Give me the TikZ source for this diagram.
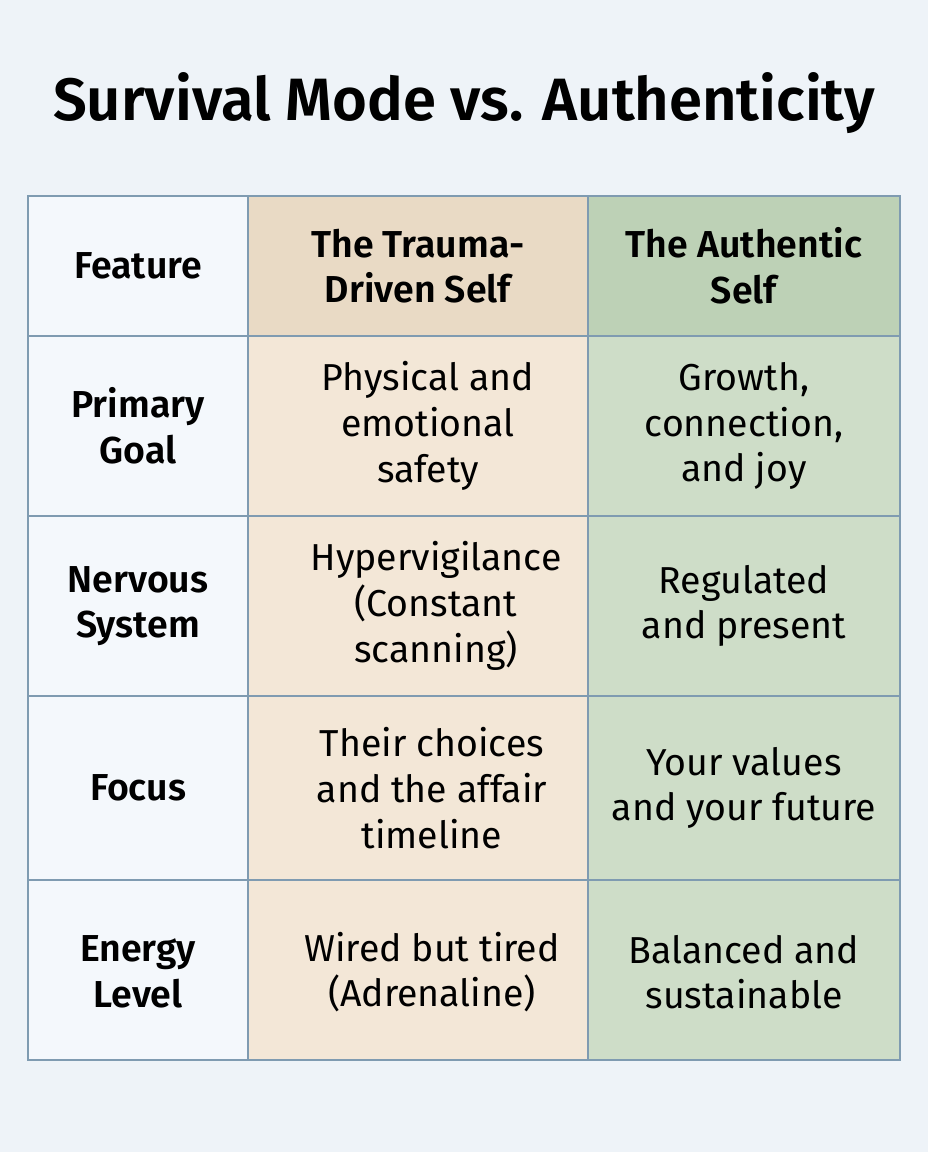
\documentclass[tikz,border=0pt]{standalone}
\usepackage{fontspec}
\setmainfont{Fira Sans}[BoldFont={Fira Sans SemiBold}]
\definecolor{bgblue}{HTML}{EEF3F8}
\definecolor{featcol}{HTML}{F4F8FC}
\definecolor{traumahead}{HTML}{E9DAC5}
\definecolor{traumacell}{HTML}{F3E7D7}
\definecolor{authhead}{HTML}{BDD1B6}
\definecolor{authcell}{HTML}{CEDDC8}
\definecolor{gridline}{HTML}{7F9BB1}
\tikzset{
  cell/.style={align=center, font=\fontsize{32}{39}\selectfont},
  head/.style={cell, font=\fontsize{32}{39}\selectfont\bfseries},
}
\begin{document}
\begin{tikzpicture}[x=0.03cm,y=-0.03cm]
    \useasboundingbox (0,0) rectangle (928,1152);
    \fill[bgblue] (0,0) rectangle (928,1152);
    \node (title) at (464,103) {\fontsize{51}{56}\selectfont\bfseries Survival Mode vs. Authenticity};
    % column fills
    \fill[featcol] (28,196) rectangle (248,1060);
    \fill[traumacell] (248,196) rectangle (588,1060);
    \fill[authcell] (588,196) rectangle (900,1060);
    \fill[traumahead] (248,196) rectangle (588,336);
    \fill[authhead] (588,196) rectangle (900,336);
    % grid
    \draw[gridline, line width=1.5pt] (28,196) rectangle (900,1060);
    \foreach \x in {248,588} \draw[gridline, line width=1.2pt] (\x,196) -- (\x,1060);
    \foreach \y in {336,516,696,880} \draw[gridline, line width=1.2pt] (28,\y) -- (900,\y);
    % header row
    \node[head] (feature) at (138,266) {Feature};
    \node[head] (trauma) at (418,266) {The Trauma-\\Driven Self};
    \node[head] (authentic) at (744,266) {The Authentic\\Self};
    % rows
    \node[head] (goal) at (138,426) {Primary\\Goal};
    \node[cell] (goalT) at (428,426) {Physical and\\emotional\\safety};
    \node[cell] (goalA) at (744,426) {Growth,\\connection,\\and joy};
    \node[head] (nerve) at (138,606) {Nervous\\System};
    \node[cell] (nerveT) at (436,606) {Hypervigilance\\(Constant\\scanning)};
    \node[cell] (nerveA) at (744,606) {Regulated\\and present};
    \node[head] (focus) at (138,788) {Focus};
    \node[cell] (focusT) at (432,788) {Their choices\\and the affair\\timeline};
    \node[cell] (focusA) at (744,788) {Your values\\and your future};
    \node[head] (energy) at (138,972) {Energy\\Level};
    \node[cell] (energyT) at (432,972) {Wired but tired\\(Adrenaline)};
    \node[cell] (energyA) at (744,972) {Balanced and\\sustainable};
\end{tikzpicture}
\end{document}
